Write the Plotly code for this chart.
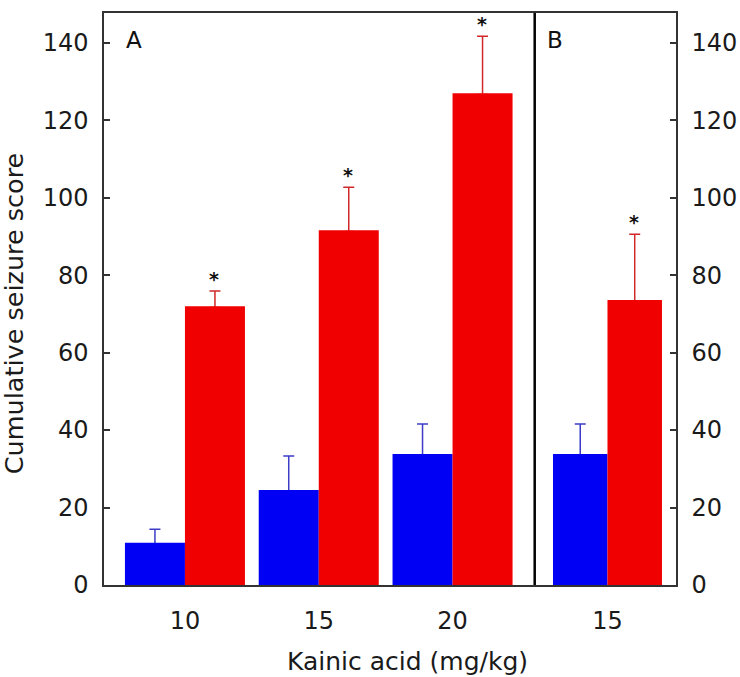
import plotly.graph_objects as go

# ---- data ----
cats_a = ["10", "15", "20"]
cats_b = ["15"]
blue_a = [10.9, 24.5, 33.8]
blue_a_err = [3.5, 8.8, 7.8]
red_a = [72.0, 91.6, 127.0]
red_a_err = [3.9, 11.1, 14.7]
blue_b = [33.8]
blue_b_err = [7.8]
red_b = [73.6]
red_b_err = [17.0]
y_ticks = [0, 20, 40, 60, 80, 100, 120, 140]

BLUE = "#0000f5"
RED = "#f00000"
BLUE_ERR = "#3c3cc8"
RED_ERR = "#d02828"
FONT = "DejaVu Sans"
SHOE = 0.35  # hides the lower end of the one-sided error bar inside the bar

fig = go.Figure()


def err_trace(x, y, err, ecolor, xa, ya):
    # invisible bars carrying the error bars, drawn underneath the real bars
    return go.Bar(x=x, y=y, marker=dict(color="rgba(0,0,0,0)", line=dict(width=0)),
                  error_y=dict(type="data", array=err, arrayminus=[SHOE] * len(err),
                               symmetric=False, color=ecolor, thickness=1.5, width=5.5),
                  xaxis=xa, yaxis=ya, showlegend=False, hoverinfo="skip")


def bar_trace(x, y, color, xa, ya):
    return go.Bar(x=x, y=y, marker=dict(color=color, line=dict(width=0)),
                  xaxis=xa, yaxis=ya, showlegend=False)


# panel A
fig.add_trace(err_trace(cats_a, blue_a, blue_a_err, BLUE_ERR, "x", "y"))
fig.add_trace(err_trace(cats_a, red_a, red_a_err, RED_ERR, "x", "y"))
fig.add_trace(bar_trace(cats_a, blue_a, BLUE, "x", "y3"))
fig.add_trace(bar_trace(cats_a, red_a, RED, "x", "y3"))
# panel B
fig.add_trace(err_trace(cats_b, blue_b, blue_b_err, BLUE_ERR, "x2", "y2"))
fig.add_trace(err_trace(cats_b, red_b, red_b_err, RED_ERR, "x2", "y2"))
fig.add_trace(bar_trace(cats_b, blue_b, BLUE, "x2", "y4"))
fig.add_trace(bar_trace(cats_b, red_b, RED, "x2", "y4"))

split = 430.7 / 572
YR = [0, 147.7]
axis_line = dict(showline=True, linecolor="#333333", linewidth=1.5)
tickfont = dict(family=FONT, size=24, color="#1a1a1a")

fig.update_layout(
    width=740, height=677,
    margin=dict(l=104, r=64, t=13, b=92),
    paper_bgcolor="white", plot_bgcolor="white",
    barmode="group", bargap=0.103, bargroupgap=0,
    xaxis=dict(domain=[0, split], range=[-0.605, 2.614], type="category",
               ticks="", tickfont=tickfont, mirror=True, showgrid=False,
               ticklabelstandoff=13, automargin=False, **axis_line),
    xaxis2=dict(domain=[split, 1], range=[-0.599, 0.564], type="category",
                ticks="", tickfont=tickfont, mirror=True, showgrid=False,
                anchor="y2", ticklabelstandoff=13, automargin=False, **axis_line),
    yaxis=dict(range=YR, tickvals=y_ticks, ticks="inside", ticklen=6,
               tickcolor="#333333", tickwidth=1.5, tickfont=tickfont,
               showgrid=False, zeroline=False, anchor="x",
               ticklabelstandoff=9, automargin=False, **axis_line),
    yaxis2=dict(range=YR, tickvals=y_ticks, ticks="inside", ticklen=6,
                tickcolor="#333333", tickwidth=1.5, tickfont=tickfont,
                showgrid=False, zeroline=False, anchor="x2", side="right",
                ticklabelstandoff=9, automargin=False, **axis_line),
    yaxis3=dict(range=YR, overlaying="y", anchor="x", visible=False,
                showgrid=False, zeroline=False, automargin=False),
    yaxis4=dict(range=YR, overlaying="y2", anchor="x2", visible=False,
                showgrid=False, zeroline=False, automargin=False),
)

# divider between panels
fig.add_shape(type="line", xref="paper", yref="paper", x0=split, x1=split,
              y0=0, y1=1, line=dict(color="black", width=2.5))

# significance stars
star_font = dict(family=FONT, size=19, color="#111")
for i, (v, e) in enumerate(zip(red_a, red_a_err)):
    fig.add_annotation(x=i, y=v + e, xref="x", yref="y", text="<b>*</b>", showarrow=False,
                       xshift=29, yshift=12, font=star_font)
for i, (v, e) in enumerate(zip(red_b, red_b_err)):
    fig.add_annotation(x=i, y=v + e, xref="x2", yref="y2", text="<b>*</b>", showarrow=False,
                       xshift=27, yshift=12, font=star_font)

# panel labels
fig.add_annotation(x=0.0516, y=0.953, xref="paper", yref="paper", text="A", showarrow=False,
                   xanchor="center", yanchor="middle", font=dict(family=FONT, size=23, color="#111"))
fig.add_annotation(x=0.7885, y=0.953, xref="paper", yref="paper", text="B", showarrow=False,
                   xanchor="center", yanchor="middle", font=dict(family=FONT, size=23, color="#111"))

# axis titles
fig.add_annotation(x=-0.157, y=0.4755, xref="paper", yref="paper",
                   text="Cumulative seizure score", showarrow=False, textangle=-90,
                   xanchor="center", yanchor="middle",
                   font=dict(family=FONT, size=25.5, color="#1a1a1a"))
fig.add_annotation(x=0.531, y=-0.133, xref="paper", yref="paper",
                   text="Kainic acid (mg/kg)", showarrow=False,
                   xanchor="center", yanchor="middle",
                   font=dict(family=FONT, size=25, color="#1a1a1a"))

fig.write_html("out.html")
